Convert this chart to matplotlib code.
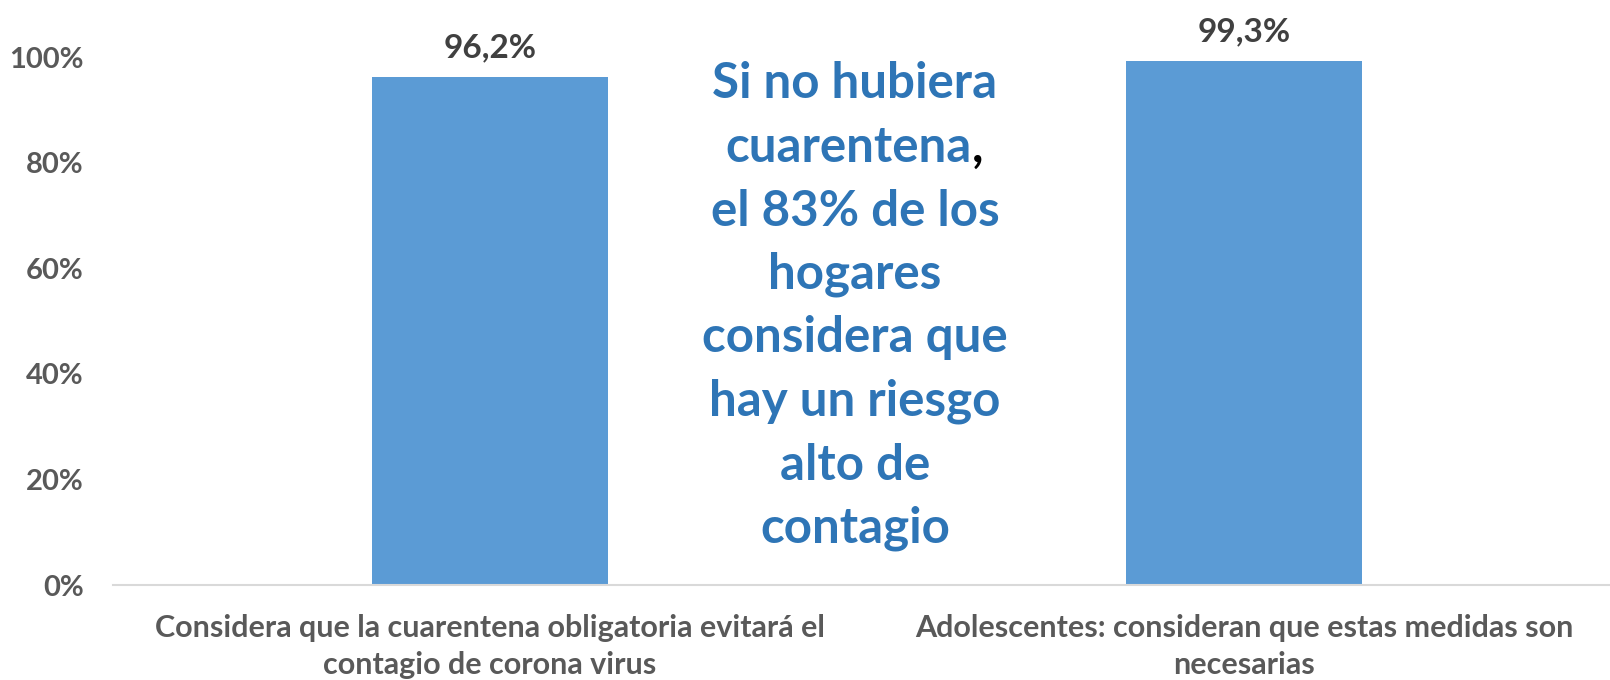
import matplotlib.pyplot as plt
from matplotlib.ticker import PercentFormatter

# data
categories = ["Considera que la cuarentena obligatoria evitará el\ncontagio de corona virus",
              "Adolescentes: consideran que estas medidas son\nnecesarias"]
values = [0.962, 0.993]
value_labels = ["96,2%", "99,3%"]
note_lines = ["Si no hubiera", "cuarentena", "el 83% de los", "hogares",
              "considera que", "hay un riesgo", "alto de", "contagio"]

plt.rcParams['font.family'] = ['Lato', 'DejaVu Sans']
plt.rcParams['font.weight'] = 'bold'

W, H = 1610, 680
fig = plt.figure(figsize=(W / 100, H / 100), dpi=100)
ax = fig.add_axes([113 / W, 1 - 585 / H, (W - 113) / W, (585 - 57) / H])

x = range(len(categories))
bars = ax.bar(x, values, width=0.313, color='#5B9BD5')
ax.set_xlim(-0.5, -0.5 + (W - 113) / 754)
ax.set_ylim(0, 1)

# value labels above bars
for b, lab in zip(bars, value_labels):
    ax.annotate(lab, (b.get_x() + b.get_width() / 2, b.get_height()),
                xytext=(0, 29), textcoords='offset pixels', ha='center', va='center',
                fontsize=24, fontweight='bold', color='#404040', annotation_clip=False)

ax.set_yticks([0, 0.2, 0.4, 0.6, 0.8, 1.0])
ax.yaxis.set_major_formatter(PercentFormatter(1.0, decimals=0))
ax.tick_params(axis='y', length=0, pad=21, labelsize=21, labelcolor='#595959')
ax.set_xticks(list(x))
ax.set_xticklabels(categories, fontsize=22, color='#595959', linespacing=1.4)
ax.tick_params(axis='x', length=0, pad=21)

for s in ['top', 'right', 'left']:
    ax.spines[s].set_visible(False)
ax.spines['bottom'].set_color('#D9D9D9')
ax.spines['bottom'].set_linewidth(1.5)

# centre note, comma after "cuarentena" is black
blue = '#2E75B6'
cx = 855 / W
for i, line in enumerate(note_lines):
    y = 1 - (84 + i * 63.5) / H
    if line == "cuarentena":
        t = fig.text(cx - 0.004, y, line, ha='center', va='center', fontsize=35.5,
                     fontweight='bold', color=blue)
        fig.canvas.draw()
        ax.annotate(",", xy=(1, 0), xycoords=t, ha='left', va='bottom',
                    fontsize=35.5, fontweight='bold', color='black')
    else:
        fig.text(cx, y, line, ha='center', va='center', fontsize=35.5,
                 fontweight='bold', color=blue)

fig.savefig('out.png', dpi=100)
